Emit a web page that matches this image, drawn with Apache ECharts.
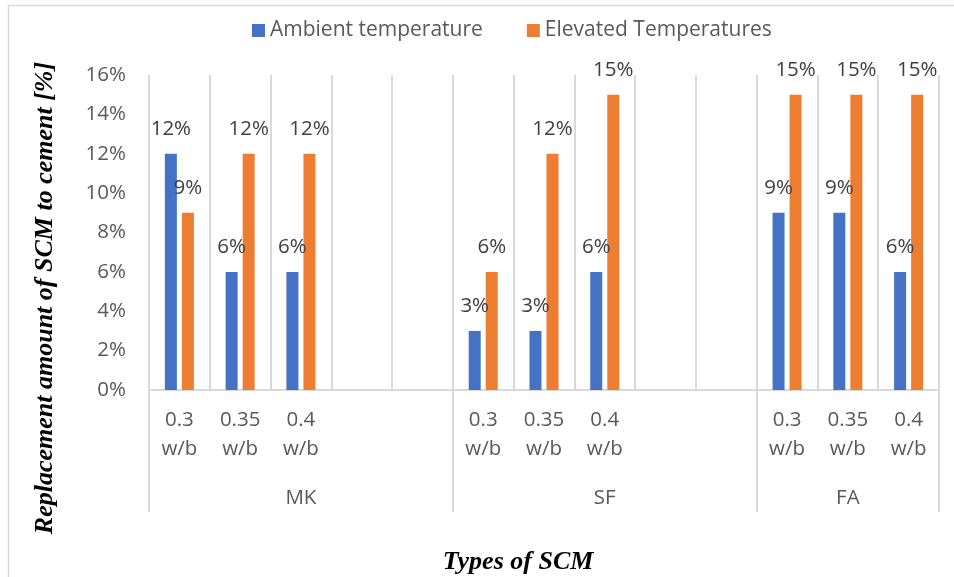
<!DOCTYPE html>
<html>
<head>
<meta charset="utf-8">
<script src="https://cdn.jsdelivr.net/npm/echarts@6/dist/echarts.min.js"></script>
<style>
  html, body { margin: 0; padding: 0; background: #fff; }
  #chart { width: 954px; height: 577px; }
</style>
</head>
<body>
<div id="chart"></div>
<script>
// Water/binder ratios per SCM type; blank slots separate the groups
const categories = ['0.3\nw/b', '0.35\nw/b', '0.4\nw/b', '', '',
                    '0.3\nw/b', '0.35\nw/b', '0.4\nw/b', '', '',
                    '0.3\nw/b', '0.35\nw/b', '0.4\nw/b'];
// SCM groups: name and [first, last+1] category slot they span
const groupNames = ['MK', 'SF', 'FA'];
const groupSpans = [[0, 5], [5, 10], [10, 13]];
// Replacement of cement by SCM, in percent
const ambient  = [12, 6, 6, null, null, 3, 3, 6, null, null, 9, 9, 6];
const elevated = [9, 12, 12, null, null, 6, 12, 15, null, null, 15, 15, 15];
const yTicks = { min: 0, max: 16, interval: 2 };

const boundaries = [];
groupSpans.forEach(s => { if (!boundaries.includes(s[0])) boundaries.push(s[0]); if (!boundaries.includes(s[1])) boundaries.push(s[1]); });
const groupCenters = groupSpans.map(s => (s[0] + s[1]) / 2);

const gridColor = '#d9d9d9';
const textColor = '#595959';
const sans = 'Open Sans';
const fs = 20.5;

const chart = echarts.init(document.getElementById('chart'), null, { renderer: 'canvas' });
chart.setOption({
  animation: false,
  backgroundColor: '#fff',
  color: ['#4472C4', '#ED7D31'],
  legend: {
    top: 15,
    left: 247,
    itemWidth: 13,
    itemHeight: 13,
    itemGap: 44,
    icon: 'rect',
    textStyle: { fontFamily: sans, fontSize: 21, color: textColor },
    data: ['Ambient temperature', 'Elevated Temperatures']
  },
  grid: { left: 149, right: 15, top: 75, bottom: 187, containLabel: false },
  xAxis: [
    {
      type: 'category',
      data: categories,
      boundaryGap: true,
      axisLine: { show: true, lineStyle: { color: gridColor, width: 2 } },
      axisTick: { show: false },
      splitLine: { show: true, interval: 0, lineStyle: { color: gridColor, width: 2 } },
      axisLabel: {
        interval: 0, margin: 16, fontFamily: sans, fontSize: fs, color: textColor,
        lineHeight: 29, align: 'center'
      }
    },
    {
      type: 'value',
      min: 0,
      max: categories.length,
      position: 'bottom',
      axisLine: { show: false },
      splitLine: { show: false },
      axisTick: {
        show: true, inside: false, length: 122,
        customValues: boundaries,
        lineStyle: { color: gridColor, width: 2 }
      },
      axisLabel: {
        show: true, margin: 98, fontFamily: sans, fontSize: fs, color: textColor,
        customValues: groupCenters,
        formatter: v => groupNames[groupCenters.indexOf(v)] || ''
      }
    }
  ],
  yAxis: {
    type: 'value',
    min: yTicks.min,
    max: yTicks.max,
    interval: yTicks.interval,
    axisLine: { show: false },
    axisTick: { show: false },
    splitLine: { show: false },
    axisLabel: { formatter: '{value}%', margin: 23, fontFamily: sans, fontSize: fs, color: textColor }
  },
  graphic: [
    {
      type: 'rect', silent: true, z: -10,
      shape: { x: 8.5, y: 5.5, width: 1000, height: 1000 },
      style: { fill: 'none', stroke: '#d9d9d9', lineWidth: 1.5 }
    },
    {
      type: 'text', x: 45, y: 298, rotation: Math.PI / 2,
      style: {
        text: 'Replacement amount of SCM to cement [%]',
        font: 'italic bold 26px "Liberation Serif"', fill: '#000',
        align: 'center', verticalAlign: 'middle'
      }
    },
    {
      type: 'text', x: 518, y: 562,
      style: {
        text: 'Types of SCM',
        font: 'italic bold 26px "Liberation Serif"', fill: '#000',
        align: 'center', verticalAlign: 'middle'
      }
    }
  ],
  series: [
    {
      name: 'Ambient temperature', type: 'bar', data: ambient,
      barWidth: 12, barGap: '42%',
      label: {
        show: true, position: 'top', distance: 14,
        formatter: p => p.value + '%', fontFamily: sans, fontSize: fs, color: '#404040'
      }
    },
    {
      name: 'Elevated Temperatures', type: 'bar', data: elevated,
      barWidth: 12, barGap: '42%',
      label: {
        show: true, position: 'top', distance: 14,
        formatter: p => p.value + '%', fontFamily: sans, fontSize: fs, color: '#404040'
      }
    }
  ]
});
</script>
</body>
</html>
